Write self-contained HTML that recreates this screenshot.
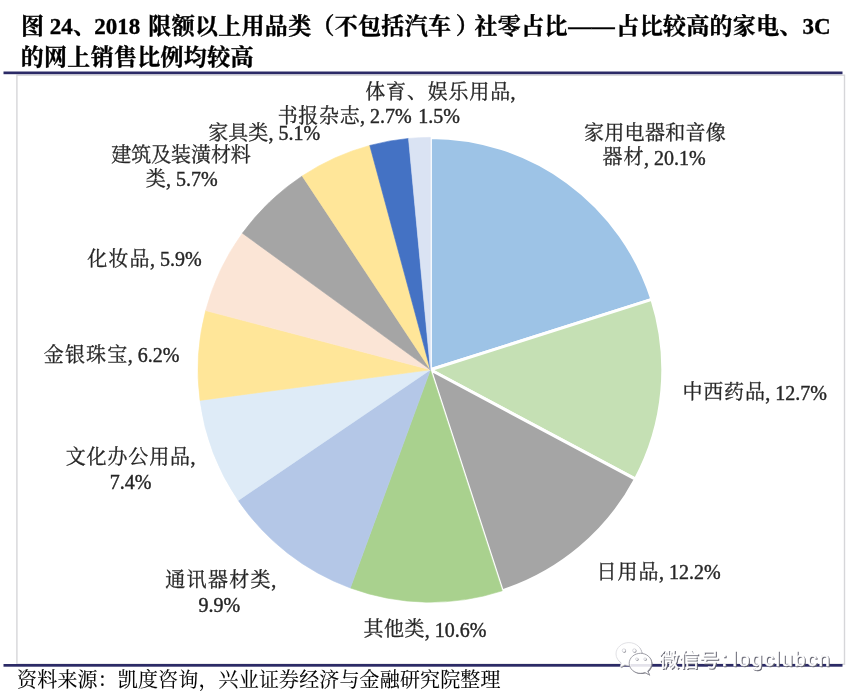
<!DOCTYPE html>
<html lang="zh-CN"><head><meta charset="utf-8"><title>图 24 社零占比</title><style>html,body{margin:0;padding:0;background:#fff}body{width:858px;height:699px;overflow:hidden;font-family:"Liberation Serif","Noto Serif CJK SC",serif}svg{display:block;will-change:transform}</style></head><body>
<svg width="858" height="699" viewBox="0 0 858 699" font-family="'Liberation Serif','Noto Serif CJK SC',serif" role="img" aria-label="图 24、2018 限额以上用品类（不包括汽车）社零占比——占比较高的家电、3C 的网上销售比例均较高（饼图）"><rect x="16.9" y="75.2" width="827.6" height="589" fill="none" stroke="#d6d6d9" stroke-width="1.4"/>
<rect x="3.5" y="71.5" width="839" height="2.7" fill="#2b2a66"/>
<rect x="3.5" y="664" width="839" height="2.7" fill="#2b2a66"/>
<g><path d="M430.40,369.80L430.40,137.40A232.4,232.4 0 0 1 651.87,299.37Z" fill="#9dc3e6" stroke="#fff" stroke-width="3" stroke-linejoin="round"/><path d="M430.40,369.80L651.87,299.37A232.4,232.4 0 0 1 635.44,479.19Z" fill="#c5e0b4" stroke="#fff" stroke-width="3" stroke-linejoin="round"/><path d="M430.40,369.80L635.44,479.19A232.4,232.4 0 0 1 502.22,590.83Z" fill="#a5a5a5" stroke="#fff" stroke-width="3" stroke-linejoin="round"/><path d="M430.40,369.80L502.22,590.83A232.4,232.4 0 0 1 350.30,587.96Z" fill="#a9d18e" stroke="#a9d18e" stroke-width="0.6" stroke-linejoin="round"/><path d="M430.40,369.80L350.30,587.96A232.4,232.4 0 0 1 238.19,500.43Z" fill="#b4c7e7" stroke="#b4c7e7" stroke-width="0.6" stroke-linejoin="round"/><path d="M430.40,369.80L238.19,500.43A232.4,232.4 0 0 1 200.02,400.38Z" fill="#deebf7" stroke="#deebf7" stroke-width="0.6" stroke-linejoin="round"/><path d="M430.40,369.80L200.02,400.38A232.4,232.4 0 0 1 205.67,310.59Z" fill="#ffe699" stroke="#ffe699" stroke-width="0.6" stroke-linejoin="round"/><path d="M430.40,369.80L205.67,310.59A232.4,232.4 0 0 1 242.38,233.20Z" fill="#fbe5d6" stroke="#fbe5d6" stroke-width="0.6" stroke-linejoin="round"/><path d="M430.40,369.80L242.38,233.20A232.4,232.4 0 0 1 302.20,175.96Z" fill="#a5a5a5" stroke="#a5a5a5" stroke-width="0.6" stroke-linejoin="round"/><path d="M430.40,369.80L302.20,175.96A232.4,232.4 0 0 1 369.78,145.45Z" fill="#ffe699" stroke="#ffe699" stroke-width="0.6" stroke-linejoin="round"/><path d="M430.40,369.80L369.78,145.45A232.4,232.4 0 0 1 408.53,138.43Z" fill="#4472c4" stroke="#4472c4" stroke-width="0.6" stroke-linejoin="round"/><path d="M430.40,369.80L408.53,138.43A232.4,232.4 0 0 1 430.40,137.40Z" fill="#dae3f3" stroke="#dae3f3" stroke-width="0.6" stroke-linejoin="round"/></g>
<g fill="#262626"><title>家用电器和音像</title><text x="583.94 604.25 624.57 644.88 665.19 685.51 705.82" y="140.10" font-size="20" stroke="#262626" stroke-width="0.3">家用电器和音像</text></g><g fill="#262626"><title>器材, 20.1%</title><text x="602.54 623.53" y="164.30" font-size="20" stroke="#262626" stroke-width="0.3">器材</text><text x="644.02" y="164.50" font-size="20" stroke="#262626" stroke-width="0.4">, 20.1%</text></g><g fill="#262626"><title>中西药品, 12.7%</title><text x="682.42 703.25 724.08 744.91" y="399.40" font-size="20" stroke="#262626" stroke-width="0.3">中西药品</text><text x="765.32" y="399.60" font-size="20" stroke="#262626" stroke-width="0.4">, 12.7%</text></g><g fill="#262626"><title>日用品, 12.2%</title><text x="596.46 617.45 638.43" y="579.10" font-size="20" stroke="#262626" stroke-width="0.3">日用品</text><text x="658.92" y="579.30" font-size="20" stroke="#262626" stroke-width="0.4">, 12.2%</text></g><g fill="#262626"><title>其他类, 10.6%</title><text x="363.54 384.01 404.49" y="636.40" font-size="20" stroke="#262626" stroke-width="0.3">其他类</text><text x="424.72" y="636.60" font-size="20" stroke="#262626" stroke-width="0.4">, 10.6%</text></g><g fill="#262626"><title>通讯器材类,</title><text x="165.24 186.58 207.92 229.25 250.59" y="586.50" font-size="20" stroke="#262626" stroke-width="0.3">通讯器材类</text><text x="271.26" y="586.70" font-size="20" stroke="#262626" stroke-width="0.4">,</text></g><g fill="#262626"><title>9.9%</title><text x="198.59" y="611.70" font-size="20" stroke="#262626" stroke-width="0.4">9.9%</text></g><g fill="#262626"><title>文化办公用品,</title><text x="65.70 86.58 107.47 128.35 149.23 170.12" y="463.80" font-size="20" stroke="#262626" stroke-width="0.3">文化办公用品</text><text x="190.56" y="464.00" font-size="20" stroke="#262626" stroke-width="0.4">,</text></g><g fill="#262626"><title>7.4%</title><text x="109.65" y="489.40" font-size="20" stroke="#262626" stroke-width="0.4">7.4%</text></g><g fill="#262626"><title>金银珠宝, 6.2%</title><text x="43.86 64.96 86.07 107.17" y="362.00" font-size="20" stroke="#262626" stroke-width="0.3">金银珠宝</text><text x="127.72" y="362.20" font-size="20" stroke="#262626" stroke-width="0.4">, 6.2%</text></g><g fill="#262626"><title>化妆品, 5.9%</title><text x="87.30 108.39 129.48" y="265.80" font-size="20" stroke="#262626" stroke-width="0.3">化妆品</text><text x="150.02" y="266.00" font-size="20" stroke="#262626" stroke-width="0.4">, 5.9%</text></g><g fill="#262626"><title>建筑及装潢材料</title><text x="111.30 131.22 151.14 171.06 190.98 210.90 230.82" y="161.90" font-size="20" stroke="#262626" stroke-width="0.3">建筑及装潢材料</text></g><g fill="#262626"><title>类, 5.7%</title><text x="145.82" y="186.20" font-size="20" stroke="#262626" stroke-width="0.3">类</text><text x="166.02" y="186.40" font-size="20" stroke="#262626" stroke-width="0.4">, 5.7%</text></g><g fill="#262626"><title>家具类, 5.1%</title><text x="208.14 228.25 248.37" y="139.90" font-size="20" stroke="#262626" stroke-width="0.3">家具类</text><text x="268.42" y="140.10" font-size="20" stroke="#262626" stroke-width="0.4">, 5.1%</text></g><g fill="#262626"><title>书报杂志, 2.7%</title><text x="277.66 298.34 319.01 339.69" y="123.00" font-size="20" stroke="#262626" stroke-width="0.3">书报杂志</text><text x="360.02" y="123.20" font-size="20" stroke="#262626" stroke-width="0.4">, 2.7%</text></g><g fill="#262626"><title>体育、娱乐用品,</title><text x="365.24 386.06 406.90 427.70 448.51 469.33 490.15" y="98.80" font-size="20" stroke="#262626" stroke-width="0.3">体育、娱乐用品</text><text x="510.56" y="99.00" font-size="20" stroke="#262626" stroke-width="0.4">,</text></g><g fill="#262626"><title>1.5%</title><text x="418.18" y="123.40" font-size="20" stroke="#262626" stroke-width="0.4">1.5%</text></g>
<g fill="#000"><title>图 24、2018 限额以上用品类（不包括汽车）社零占比——占比较高的家电、3C</title><text x="20.95" y="34.40" font-size="23" font-weight="bold" stroke="#000" stroke-width="0.35">图</text><text x="49.85" y="34.20" font-size="23" font-weight="bold" stroke="#000" stroke-width="0.35">24</text><text x="73" y="34.40" font-size="23" font-weight="bold" stroke="#000" stroke-width="0.35">、</text><text x="94.15" y="34.20" font-size="23" font-weight="bold" stroke="#000" stroke-width="0.35">2018</text><text x="148.35 171.65 194.95 218.25 241.55 264.85 288.15 311.45 334.75 358.05 381.35 404.65 427.95 455.85 474.55 497.85 521.15 544.45" y="34.40" font-size="23" font-weight="bold" stroke="#000" stroke-width="0.35">限额以上用品类（不包括汽车）社零占比</text><text x="568.35 591.65" y="34.40" font-size="23" font-weight="bold" stroke="#000" stroke-width="0.35">——</text><text x="616.35 639.65 662.95 686.25 709.55 732.85 756.15 779.45" y="34.40" font-size="23" font-weight="bold" stroke="#000" stroke-width="0.35">占比较高的家电、</text><text x="802.60" y="34.20" font-size="23" font-weight="bold" stroke="#000" stroke-width="0.35">3C</text></g><g fill="#000"><title>的网上销售比例均较高</title><text x="20.75 44.05 67.35 90.65 113.95 137.25 160.55 183.85 207.15 230.45" y="65.30" font-size="23" font-weight="bold" stroke="#000" stroke-width="0.35">的网上销售比例均较高</text></g>
<g fill="#000"><title>资料来源：凯度咨询，兴业证券经济与金融研究院整理</title><text x="17.07 37.22 57.38 77.52 97.67 117.83 137.97 158.12 178.28 198.43 218.58 238.73 258.88 279.02 299.17 319.32 339.47 359.62 379.77 399.92 420.07 440.22 460.37 480.52" y="687.40" font-size="20" stroke="#000" stroke-width="0.12">资料来源：凯度咨询，兴业证券经济与金融研究院整理</text></g>
<g><g fill="#7c7c88" transform="translate(0.9,0.9)"><path d="M628.9,642.6c7.1,0,12.9,5.1,12.9,11.4s-5.800,11.400-12.900,11.400c-1.400,0-2.800-0.200-4.100-0.600l-4.600,2.500l1-4.400c-3.100-2.100-5.200-5.300-5.200-8.900C616,647.700,621.800,642.600,628.900,642.600z"/></g><g fill="#fff" stroke="#d4d4da" stroke-width="0.7"><path d="M628.9,642.6c7.1,0,12.9,5.1,12.9,11.4s-5.800,11.400-12.900,11.400c-1.400,0-2.800-0.200-4.100-0.600l-4.600,2.500l1-4.400c-3.100-2.100-5.200-5.300-5.200-8.900C616,647.700,621.800,642.600,628.900,642.600z"/></g><g fill="#6c6c78" transform="translate(0.7,0.8)"><path d="M640.5,653.3c6.200,0,11.300,4.500,11.300,10c0,3.100-1.600,5.900-4.100,7.700l1.900,4l-4.700-2.500c-1.400,0.500-2.800,0.800-4.400,0.800c-6.200,0-11.300-4.500-11.300-10S634.300,653.300,640.500,653.300z"/></g><g fill="#fff" stroke="#8a8a94" stroke-width="0.8"><path d="M640.5,653.3c6.200,0,11.300,4.500,11.300,10c0,3.100-1.600,5.900-4.100,7.700l1.900,4l-4.700-2.500c-1.400,0.500-2.800,0.800-4.400,0.800c-6.200,0-11.300-4.500-11.300-10S634.300,653.300,640.500,653.300z"/></g><rect x="630.5" y="664" width="20.6" height="2.7" fill="#2b2a66" opacity="0.13"/><g fill="#77777f" transform="translate(0.5,0.5)"><circle cx="623.9" cy="650.5" r="1.7"/><circle cx="634.3" cy="650.5" r="1.7"/><circle cx="636.8" cy="659.1" r="1.25"/><circle cx="645.0" cy="659.1" r="1.25"/></g><g fill="#fff" stroke="#b9b9c2" stroke-width="0.5"><circle cx="623.9" cy="650.5" r="1.7"/><circle cx="634.3" cy="650.5" r="1.7"/><circle cx="636.8" cy="659.1" r="1.25"/><circle cx="645.0" cy="659.1" r="1.25"/></g><g fill="#62626f" stroke="#62626f"><text x="660.20 680.30 700.40" y="667.70" font-family="'Liberation Sans','Noto Sans CJK SC',sans-serif" font-size="19.8" stroke-width="0.5">微信号</text><text x="722.60" y="666.90" font-family="'Liberation Sans',sans-serif" font-size="20" stroke-width="0.5">:</text><text x="733.60" y="666.90" font-family="'Liberation Sans',sans-serif" font-size="20" letter-spacing="1.56" stroke-width="0.5">logclubcn</text></g><g fill="#fff" stroke="#fff"><text x="659.20 679.30 699.40" y="666.70" font-family="'Liberation Sans','Noto Sans CJK SC',sans-serif" font-size="19.8" stroke-width="0.5">微信号</text><text x="721.60" y="665.90" font-family="'Liberation Sans',sans-serif" font-size="20" stroke-width="0.5">:</text><text x="732.60" y="665.90" font-family="'Liberation Sans',sans-serif" font-size="20" letter-spacing="1.56" stroke-width="0.5">logclubcn</text></g></g></svg>
</body></html>
